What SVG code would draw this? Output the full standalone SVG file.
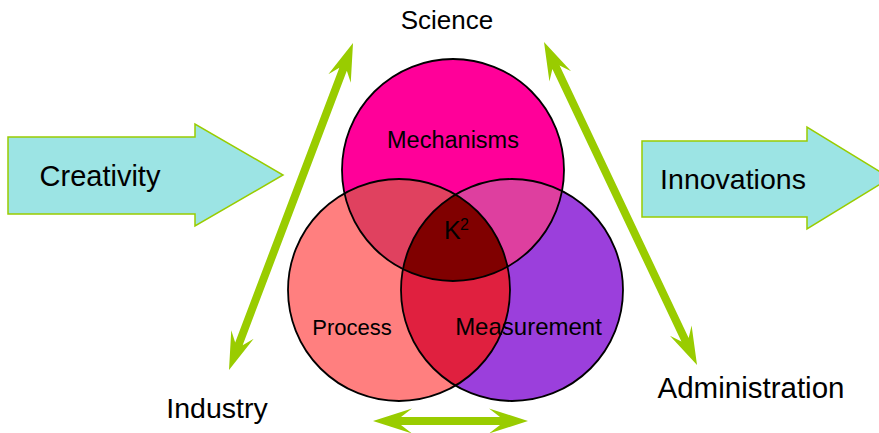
<svg xmlns="http://www.w3.org/2000/svg" width="879" height="433" viewBox="0 0 879 433">
<style>
text{font-family:"Liberation Sans",Arial,sans-serif;fill:#000}
.big{font-size:28.5px}
.mid{font-size:22px}
.cyan{fill:#9CE4E4;stroke:#99CC00;stroke-width:1.5}
.green{fill:#99CC00}
.ring{fill:none;stroke:#000;stroke-width:1.8}
</style>
<defs>
<clipPath id="cT"><circle cx="453" cy="170" r="111"/></clipPath>
<clipPath id="cL"><circle cx="399" cy="290" r="111"/></clipPath>
<clipPath id="cR"><circle cx="512" cy="290" r="111"/></clipPath>
</defs>
<g id="creativity">
<polygon class="cyan" points="8,137 195,137 195,124 283,175 195,226 195,214 8,214"/>
<text class="big" x="100" y="186" text-anchor="middle" style="font-size:29px">Creativity</text>
</g>
<g id="innovations">
<polygon class="cyan" points="642,141 807,141 807,127 890,178 807,229 807,217 642,217"/>
<text class="big" x="733" y="189" text-anchor="middle">Innovations</text>
</g>
<g id="venn">
<circle id="mechanisms-circle" cx="453" cy="170" r="111" fill="#FF0099"/>
<circle id="process-circle" cx="399" cy="290" r="111" fill="#FF7F7F"/>
<circle id="measurement-circle" cx="512" cy="290" r="111" fill="#9B3FDC"/>
<circle cx="399" cy="290" r="111" fill="#E0415F" clip-path="url(#cT)"/>
<circle cx="512" cy="290" r="111" fill="#DE3F9F" clip-path="url(#cT)"/>
<circle cx="512" cy="290" r="111" fill="#E0203F" clip-path="url(#cL)"/>
<g clip-path="url(#cL)"><circle cx="512" cy="290" r="111" fill="#800000" clip-path="url(#cT)"/></g>
<circle class="ring" cx="453" cy="170" r="111"/>
<circle class="ring" cx="399" cy="290" r="111"/>
<circle class="ring" cx="512" cy="290" r="111"/>
</g>
<g id="mechanisms"><text class="mid" x="453" y="148" text-anchor="middle" style="font-size:23.5px">Mechanisms</text></g>
<g id="process"><text class="mid" x="352" y="335" text-anchor="middle">Process</text></g>
<g id="measurement"><text class="mid" x="528.5" y="335" text-anchor="middle" style="font-size:24px">Measurement</text></g>
<g id="k2"><text x="444" y="239" style="font-size:25px">K</text><text x="460" y="230" style="font-size:16px">2</text></g>
<g id="science"><text class="big" x="447" y="29" text-anchor="middle" style="font-size:26px">Science</text></g>
<g id="industry"><text class="big" x="217" y="418" text-anchor="middle">Industry</text></g>
<g id="administration"><text class="big" x="751" y="398" text-anchor="middle" style="font-size:29.5px">Administration</text></g>
<g id="connectors">
<polygon class="green" transform="translate(229,370) rotate(-69.23)" points="0,0 38,-12 28,-4 321.7,-4 311.7,-12 349.7,0 311.7,12 321.7,4 28,4 38,12"/>
<polygon class="green" transform="translate(544,42) rotate(64.65)" points="0,0 38,-12 28,-4 329.4,-4 319.4,-12 357.4,0 319.4,12 329.4,4 28,4 38,12"/>
<polygon class="green" transform="translate(373,421)" points="0,0 39,-12.5 28,-4 127,-4 116,-12.5 155,0 116,12.5 127,4 28,4 39,12.5"/>
</g>
</svg>
